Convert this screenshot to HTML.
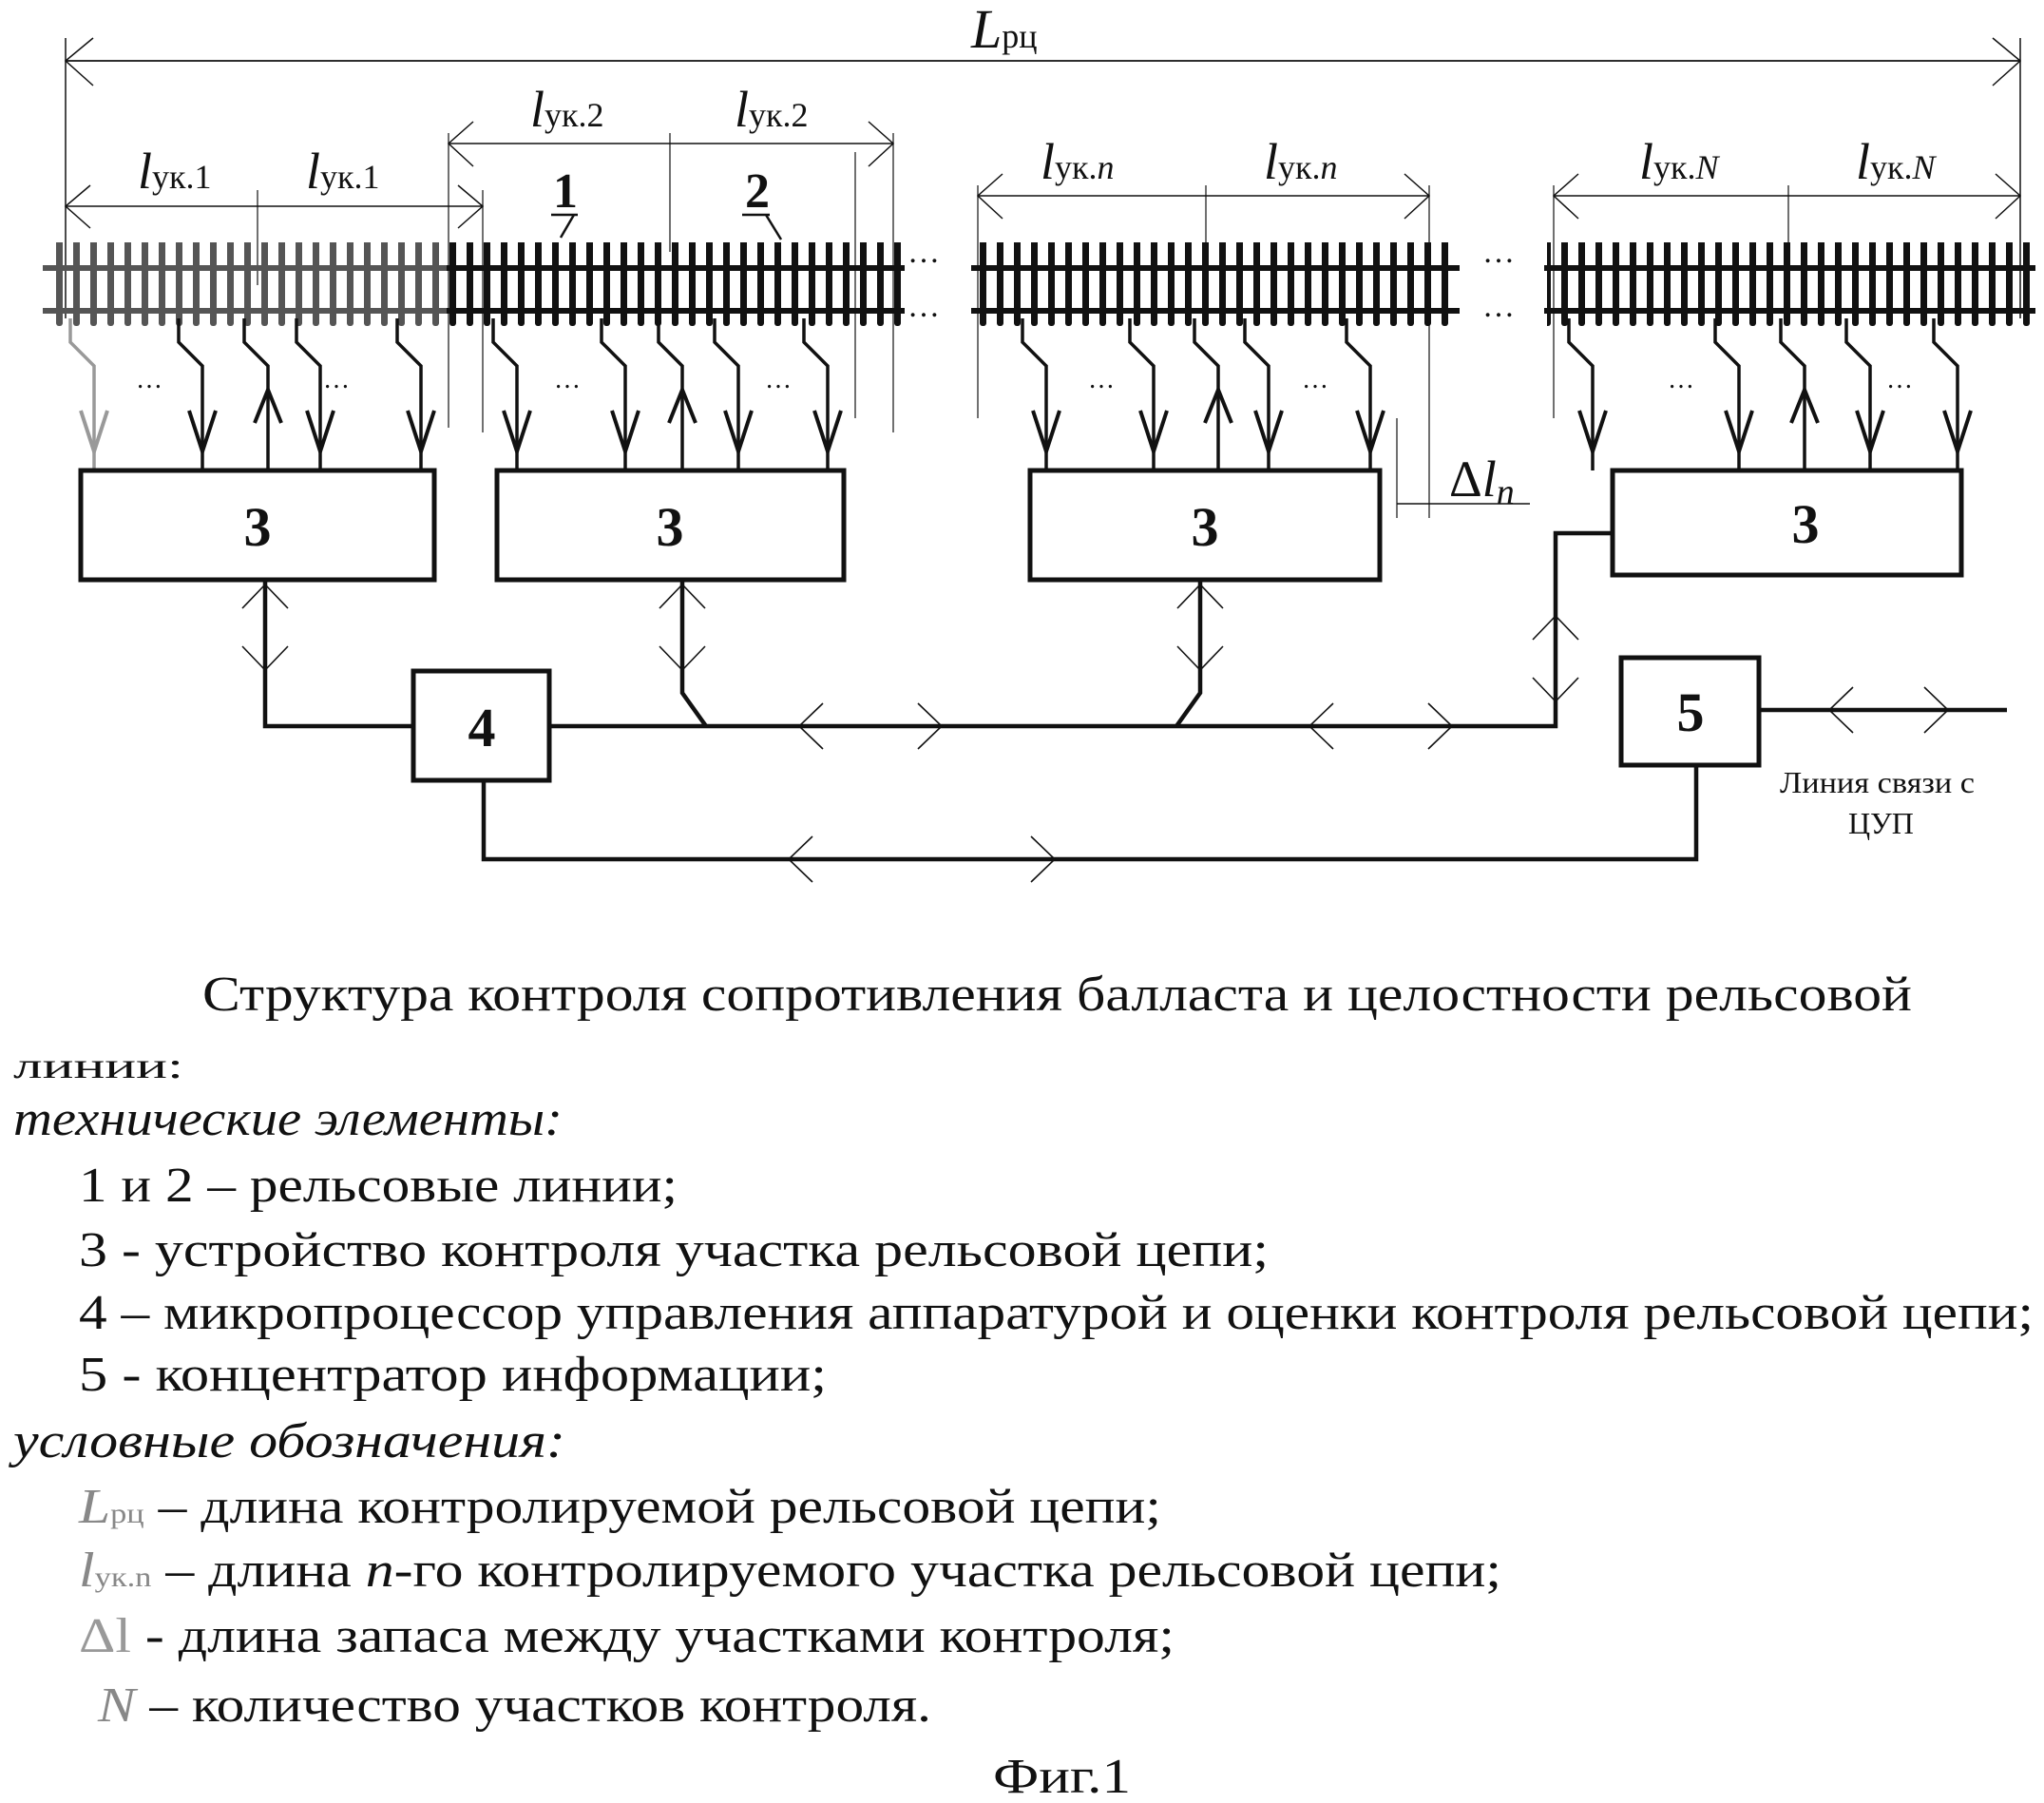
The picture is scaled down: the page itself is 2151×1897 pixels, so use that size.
<!DOCTYPE html>
<html><head><meta charset="utf-8"><style>
html,body{margin:0;padding:0;background:#fff}
svg{display:block}
text{font-family:"Liberation Serif",serif;fill:#111}
</style></head><body>
<svg width="2151" height="1897" viewBox="0 0 2151 1897" xmlns="http://www.w3.org/2000/svg">
<defs>
<pattern id="ties" x="0" y="0" width="18" height="120" patternUnits="userSpaceOnUse">
<rect x="5" y="0" width="7" height="103" rx="3" fill="#111"/>
</pattern>
<pattern id="tiesf" x="0" y="0" width="18" height="120" patternUnits="userSpaceOnUse">
<rect x="5" y="0" width="7" height="103" rx="3" fill="#555"/>
</pattern>
</defs>
<g stroke="#111" fill="none">
<line x1="69" y1="40" x2="69" y2="335" stroke-width="1.5"/>
<line x1="2126" y1="40" x2="2126" y2="335" stroke-width="1.5"/>
<line x1="69" y1="64" x2="2126" y2="64" stroke-width="1.8"/>
<polyline points="98,40 69,64 98,90" stroke-width="1.5"/>
<polyline points="2097,40 2126,64 2097,90" stroke-width="1.5"/>
<line x1="69" y1="217" x2="508" y2="217" stroke-width="1.5"/>
<line x1="271" y1="200" x2="271" y2="300" stroke-width="1.2"/>
<line x1="508" y1="200" x2="508" y2="455" stroke-width="1.2"/>
<polyline points="95,195 69,217 95,240" stroke-width="1.5"/>
<polyline points="482,195 508,217 482,240" stroke-width="1.5"/>
<line x1="472" y1="140" x2="472" y2="450" stroke-width="1.2"/>
<line x1="472" y1="151" x2="940" y2="151" stroke-width="1.5"/>
<line x1="705" y1="140" x2="705" y2="265" stroke-width="1.2"/>
<line x1="940" y1="140" x2="940" y2="455" stroke-width="1.2"/>
<line x1="900" y1="160" x2="900" y2="440" stroke-width="1.2"/>
<polyline points="498,128 472,151 498,175" stroke-width="1.5"/>
<polyline points="914,128 940,151 914,175" stroke-width="1.5"/>
<line x1="1029" y1="195" x2="1029" y2="440" stroke-width="1.2"/>
<line x1="1029" y1="206" x2="1504" y2="206" stroke-width="1.5"/>
<line x1="1269" y1="195" x2="1269" y2="280" stroke-width="1.2"/>
<line x1="1504" y1="195" x2="1504" y2="545" stroke-width="1.2"/>
<line x1="1470" y1="440" x2="1470" y2="545" stroke-width="1.2"/>
<line x1="1470" y1="530" x2="1610" y2="530" stroke-width="1.5"/>
<polyline points="1055,183 1029,206 1055,230" stroke-width="1.5"/>
<polyline points="1478,183 1504,206 1478,230" stroke-width="1.5"/>
<line x1="1635" y1="195" x2="1635" y2="440" stroke-width="1.2"/>
<line x1="1635" y1="206" x2="2126" y2="206" stroke-width="1.5"/>
<line x1="1882" y1="195" x2="1882" y2="290" stroke-width="1.2"/>
<polyline points="1661,183 1635,206 1661,230" stroke-width="1.5"/>
<polyline points="2100,183 2126,206 2100,230" stroke-width="1.5"/>
</g>
<rect x="48" y="255" width="420" height="103" fill="url(#tiesf)"/>
<rect x="468" y="255" width="482" height="103" fill="url(#ties)"/>
<rect x="1025" y="255" width="509" height="103" fill="url(#ties)"/>
<rect x="1628" y="255" width="512" height="103" fill="url(#ties)"/>
<g stroke-width="6">
<line x1="45" y1="282" x2="470" y2="282" stroke="#555"/>
<line x1="45" y1="327" x2="470" y2="327" stroke="#555"/>
<line x1="470" y1="282" x2="952" y2="282" stroke="#111"/>
<line x1="470" y1="327" x2="952" y2="327" stroke="#111"/>
<line x1="1022" y1="282" x2="1536" y2="282" stroke="#111"/>
<line x1="1022" y1="327" x2="1536" y2="327" stroke="#111"/>
<line x1="1625" y1="282" x2="2142" y2="282" stroke="#111"/>
<line x1="1625" y1="327" x2="2142" y2="327" stroke="#111"/>
</g>
<g font-size="34" fill="#111"><text x="955" y="276">…</text><text x="955" y="333">…</text><text x="1560" y="276">…</text><text x="1560" y="333">…</text></g>
<g stroke="#111" stroke-width="3.5" fill="none">
<path d="M74 335 V360 L99 385 V495" stroke="#999"/>
<path d="M188 335 V360 L213 385 V495"/>
<path d="M257 335 V360 L282 385 V495"/>
<path d="M312 335 V360 L337 385 V495"/>
<path d="M418 335 V360 L443 385 V495"/>
<path d="M519 335 V360 L544 385 V495"/>
<path d="M633 335 V360 L658 385 V495"/>
<path d="M693 335 V360 L718 385 V495"/>
<path d="M752 335 V360 L777 385 V495"/>
<path d="M846 335 V360 L871 385 V495"/>
<path d="M1076 335 V360 L1101 385 V495"/>
<path d="M1189 335 V360 L1214 385 V495"/>
<path d="M1257 335 V360 L1282 385 V495"/>
<path d="M1310 335 V360 L1335 385 V495"/>
<path d="M1417 335 V360 L1442 385 V495"/>
<path d="M1651 335 V360 L1676 385 V495"/>
<path d="M1805 335 V360 L1830 385 V495"/>
<path d="M1874 335 V360 L1899 385 V495"/>
<path d="M1943 335 V360 L1968 385 V495"/>
<path d="M2035 335 V360 L2060 385 V495"/>
</g>
<g stroke="#111" stroke-width="4" fill="none">
<polyline points="85,432 99,475 113,432" stroke="#999"/>
<polyline points="199,432 213,475 227,432"/><polyline points="268,445 282,410 296,445"/><polyline points="323,432 337,475 351,432"/><polyline points="429,432 443,475 457,432"/>
<polyline points="530,432 544,475 558,432"/><polyline points="644,432 658,475 672,432"/><polyline points="704,445 718,410 732,445"/><polyline points="763,432 777,475 791,432"/><polyline points="857,432 871,475 885,432"/>
<polyline points="1087,432 1101,475 1115,432"/><polyline points="1200,432 1214,475 1228,432"/><polyline points="1268,445 1282,410 1296,445"/><polyline points="1321,432 1335,475 1349,432"/><polyline points="1428,432 1442,475 1456,432"/>
<polyline points="1662,432 1676,475 1690,432"/><polyline points="1816,432 1830,475 1844,432"/><polyline points="1885,445 1899,410 1913,445"/><polyline points="1954,432 1968,475 1982,432"/><polyline points="2046,432 2060,475 2074,432"/>
</g>
<g font-size="28" fill="#111"><text x="143" y="408">…</text><text x="340" y="408">…</text><text x="583" y="408">…</text><text x="805" y="408">…</text><text x="1145" y="408">…</text><text x="1370" y="408">…</text><text x="1755" y="408">…</text><text x="1985" y="408">…</text></g>
<g stroke="#111" stroke-width="5" fill="#fff">
<rect x="85" y="495" width="372" height="115"/>
<rect x="523" y="495" width="365" height="115"/>
<rect x="1084" y="495" width="368" height="115"/>
<rect x="1697" y="495" width="367" height="110"/>
<rect x="435" y="706" width="143" height="115"/>
<rect x="1706" y="692" width="145" height="113"/>
</g>
<g font-size="58" font-weight="bold" text-anchor="middle">
<text x="271" y="574">3</text><text x="705" y="574">3</text><text x="1268" y="574">3</text><text x="1900" y="571">3</text>
<text x="507" y="785">4</text><text x="1779" y="769">5</text>
</g>
<g stroke="#111" stroke-width="4.5" fill="none">
<path d="M279 610 V764 H435"/>
<path d="M578 764 H1637 V561 H1697"/>
<path d="M718 610 V729 L743 764"/>
<path d="M1263 610 V729 L1238 764"/>
<path d="M509 821 V904 H1785 V805"/>
<path d="M1851 747 H2112"/>
</g>
<g stroke="#111" stroke-width="1.6" fill="none">
<polyline points="255,640 279,615 303,640"/><polyline points="255,680 279,705 303,680"/>
<polyline points="694,640 718,615 742,640"/><polyline points="694,680 718,705 742,680"/>
<polyline points="1239,640 1263,615 1287,640"/><polyline points="1239,680 1263,705 1287,680"/>
<polyline points="1613,673 1637,648 1661,673"/><polyline points="1613,713 1637,738 1661,713"/>
<polyline points="866,740 841,764 866,788"/><polyline points="966,740 991,764 966,788"/>
<polyline points="1403,740 1378,764 1403,788"/><polyline points="1503,740 1528,764 1503,788"/>
<polyline points="855,880 830,904 855,928"/><polyline points="1085,880 1110,904 1085,928"/>
<polyline points="1950,723 1925,747 1950,771"/><polyline points="2025,723 2050,747 2025,771"/>
</g>
<g font-style="italic">
<text x="1022" y="50" font-size="58">L<tspan font-size="36" font-style="normal">рц</tspan></text>
<text x="145" y="198" font-size="54">l<tspan font-size="36" font-style="normal">ук.1</tspan></text>
<text x="322" y="198" font-size="54">l<tspan font-size="36" font-style="normal">ук.1</tspan></text>
<text x="558" y="133" font-size="54">l<tspan font-size="36" font-style="normal">ук.2</tspan></text>
<text x="773" y="133" font-size="54">l<tspan font-size="36" font-style="normal">ук.2</tspan></text>
<text x="1095" y="188" font-size="54">l<tspan font-size="36" font-style="normal">ук.</tspan><tspan font-size="36">n</tspan></text>
<text x="1330" y="188" font-size="54">l<tspan font-size="36" font-style="normal">ук.</tspan><tspan font-size="36">n</tspan></text>
<text x="1725" y="188" font-size="54">l<tspan font-size="36" font-style="normal">ук.</tspan><tspan font-size="36">N</tspan></text>
<text x="1953" y="188" font-size="54">l<tspan font-size="36" font-style="normal">ук.</tspan><tspan font-size="36">N</tspan></text>
<text x="1525" y="522" font-size="54"><tspan font-style="normal">Δ</tspan>l<tspan font-size="38" dy="8">n</tspan></text>
</g>
<g font-size="52" font-weight="bold"><text x="582" y="218">1</text><text x="784" y="218">2</text></g>
<g stroke="#111" stroke-width="2.5" fill="none"><line x1="580" y1="226" x2="608" y2="226"/><path d="M604 226 L590 250"/><line x1="781" y1="226" x2="810" y2="226"/><path d="M806 226 L822 252"/></g>
<text x="1873" y="834" font-size="32" textLength="205" lengthAdjust="spacingAndGlyphs">Линия связи с</text>
<text x="1945" y="877" font-size="32">ЦУП</text>
<g font-size="52">
<text x="213" y="1063" textLength="1799" lengthAdjust="spacingAndGlyphs">Структура контроля сопротивления балласта и целостности  рельсовой</text>
<text x="14" y="1134" fill="#777" font-size="38" textLength="179" lengthAdjust="spacingAndGlyphs">линии:</text>
<text x="14" y="1194" fill="#666" font-style="italic" textLength="578" lengthAdjust="spacingAndGlyphs">технические элементы:</text>
<text x="83" y="1264" textLength="630" lengthAdjust="spacingAndGlyphs">1 и 2 – рельсовые линии;</text>
<text x="83" y="1332" textLength="1252" lengthAdjust="spacingAndGlyphs">3 -  устройство контроля участка рельсовой цепи;</text>
<text x="83" y="1398" textLength="2057" lengthAdjust="spacingAndGlyphs">4 – микропроцессор управления аппаратурой и оценки контроля рельсовой цепи;</text>
<text x="83" y="1463" textLength="787" lengthAdjust="spacingAndGlyphs">5 -  концентратор информации;</text>
<text x="14" y="1533" fill="#666" font-style="italic" textLength="581" lengthAdjust="spacingAndGlyphs">условные обозначения:</text>
<text x="83" y="1602" textLength="1139" lengthAdjust="spacingAndGlyphs"><tspan font-style="italic" fill="#888">L</tspan><tspan font-size="30" fill="#888">рц</tspan> – длина контролируемой рельсовой цепи;</text>
<text x="83" y="1669" textLength="1497" lengthAdjust="spacingAndGlyphs"><tspan font-style="italic" fill="#888">l</tspan><tspan font-size="30" fill="#888">ук.n</tspan> – длина <tspan font-style="italic">n</tspan>-го контролируемого участка рельсовой цепи;</text>
<text x="83" y="1738" textLength="1153" lengthAdjust="spacingAndGlyphs"><tspan fill="#999">Δl</tspan> - длина запаса между участками контроля;</text>
<text x="103" y="1811" textLength="877" lengthAdjust="spacingAndGlyphs"><tspan font-style="italic" fill="#888">N</tspan> – количество участков контроля.</text>
<text x="1045" y="1886" fill="#444" textLength="145" lengthAdjust="spacingAndGlyphs">Фиг.1</text>
</g>
</svg>
</body></html>
